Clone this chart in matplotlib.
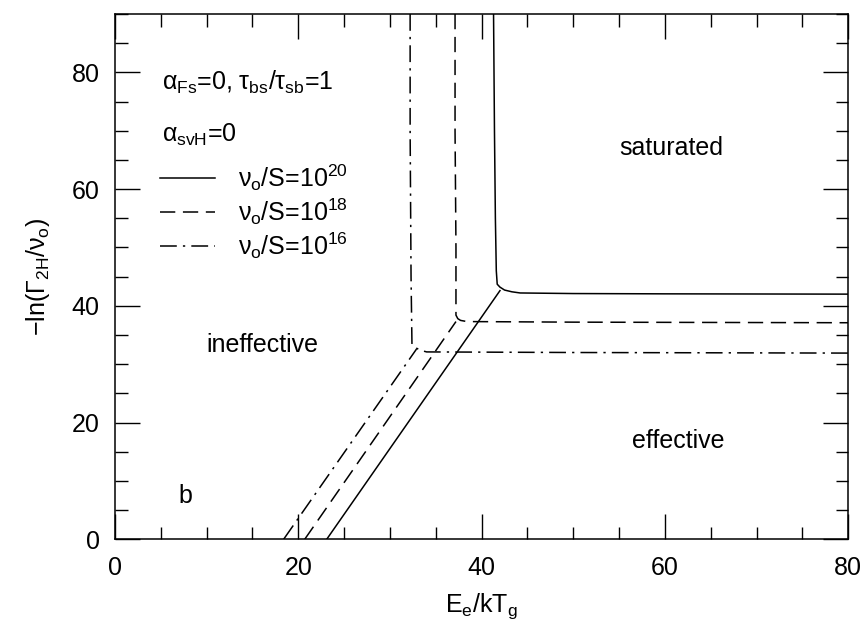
import matplotlib
matplotlib.use('Agg')
import matplotlib.pyplot as plt
from matplotlib.lines import Line2D

plt.rcParams['font.family'] = ['Liberation Sans', 'DejaVu Sans']
plt.rcParams['mathtext.fontset'] = 'custom'
plt.rcParams['mathtext.rm'] = 'Liberation Sans'
plt.rcParams['mathtext.it'] = 'Liberation Sans'
plt.rcParams['mathtext.bf'] = 'Liberation Sans'

# boundary between ineffective/saturated and effective/saturated regions
x_sat20 = [41.3, 41.4, 41.5, 41.6, 41.7, 42.0, 42.5, 43.3, 44.2, 50.0, 60.0, 80.0]
y_sat20 = [90.0, 70.0, 55.0, 46.0, 43.7, 43.2, 42.7, 42.4, 42.2, 42.1, 42.05, 42.0]
x_sat18 = [37.1, 37.1, 37.2, 37.2, 37.4, 37.7, 38.4, 50.0, 80.0]
y_sat18 = [90.0, 70.0, 50.0, 38.4, 37.8, 37.5, 37.3, 37.2, 37.1]
x_sat16 = [32.2, 32.2, 32.3, 32.4, 32.7, 33.3, 34.0, 50.0, 80.0]
y_sat16 = [90.0, 70.0, 45.0, 33.4, 32.9, 32.4, 32.1, 32.0, 31.9]

# boundary between ineffective and effective regions
x_eff20 = [23.1, 42.0]
y_eff20 = [0.0, 42.6]
x_eff18 = [20.7, 37.2]
y_eff18 = [0.0, 37.3]
x_eff16 = [18.4, 32.9]
y_eff16 = [0.0, 32.6]

labels = [r'$\nu_{\rm o}$/S=10$^{20}$', r'$\nu_{\rm o}$/S=10$^{18}$', r'$\nu_{\rm o}$/S=10$^{16}$']

dash = (0, (10, 5))
dashdot = (0, (11, 4, 1.5, 4))
styles = ['-', dash, dashdot]
fs = 18

fig = plt.figure(figsize=(8.65, 6.21), dpi=100)
ax = fig.add_axes([0.1329, 0.1316, 0.8478, 0.8459])

sat = [(x_sat20, y_sat20), (x_sat18, y_sat18), (x_sat16, y_sat16)]
eff = [(x_eff20, y_eff20), (x_eff18, y_eff18), (x_eff16, y_eff16)]
for (xs, ys), (xe, ye), ls in zip(sat, eff, styles):
    ax.plot(xs, ys, color='black', lw=1.1, linestyle=ls)
    ax.plot(xe, ye, color='black', lw=1.1, linestyle=ls)

ax.set_xlim(0, 80)
ax.set_ylim(0, 90)
ax.set_xticks([0, 20, 40, 60, 80])
ax.set_yticks([0, 20, 40, 60, 80])
ax.set_xticks(range(0, 81, 5), minor=True)
ax.set_yticks(range(0, 91, 5), minor=True)
ax.tick_params(which='both', direction='in', top=True, right=True, width=1.0, labelsize=fs)
ax.tick_params(which='major', length=18)
ax.tick_params(which='minor', length=9)
ax.tick_params(axis='x', pad=12)
ax.tick_params(axis='y', pad=11)
for s in ax.spines.values():
    s.set_linewidth(1.1)

ax.set_xlabel(r'E$_{\rm e}$/kT$_{\rm g}$', fontsize=fs, labelpad=8)
ax.set_ylabel(r'$-$ln($\Gamma_{\rm 2H}/\nu_{\rm o}$)', fontsize=fs, labelpad=14)

ax.text(5.1, 77.0, r'$\alpha_{\rm Fs}$=0, $\tau_{\rm bs}/\tau_{\rm sb}$=1', fontsize=fs, va='baseline')
ax.text(5.1, 68.1, r'$\alpha_{\rm svH}$=0', fontsize=fs, va='baseline')
ax.text(60.7, 65.8, 'saturated', fontsize=fs, ha='center', va='baseline')
ax.text(16.1, 32.1, 'ineffective', fontsize=fs, ha='center', va='baseline')
ax.text(61.4, 15.6, 'effective', fontsize=fs, ha='center', va='baseline')
ax.text(6.9, 6.3, 'b', fontsize=fs, va='baseline')

handles = [Line2D([], [], color='black', lw=1.1, linestyle=ls) for ls in styles]
leg = ax.legend(handles, labels, loc='upper left', bbox_to_anchor=(0.061, 0.717),
                frameon=False, fontsize=fs, handlelength=2.2, handletextpad=0.95,
                labelspacing=0.13, borderpad=0, borderaxespad=0)

fig.savefig('out.png', dpi=100)
